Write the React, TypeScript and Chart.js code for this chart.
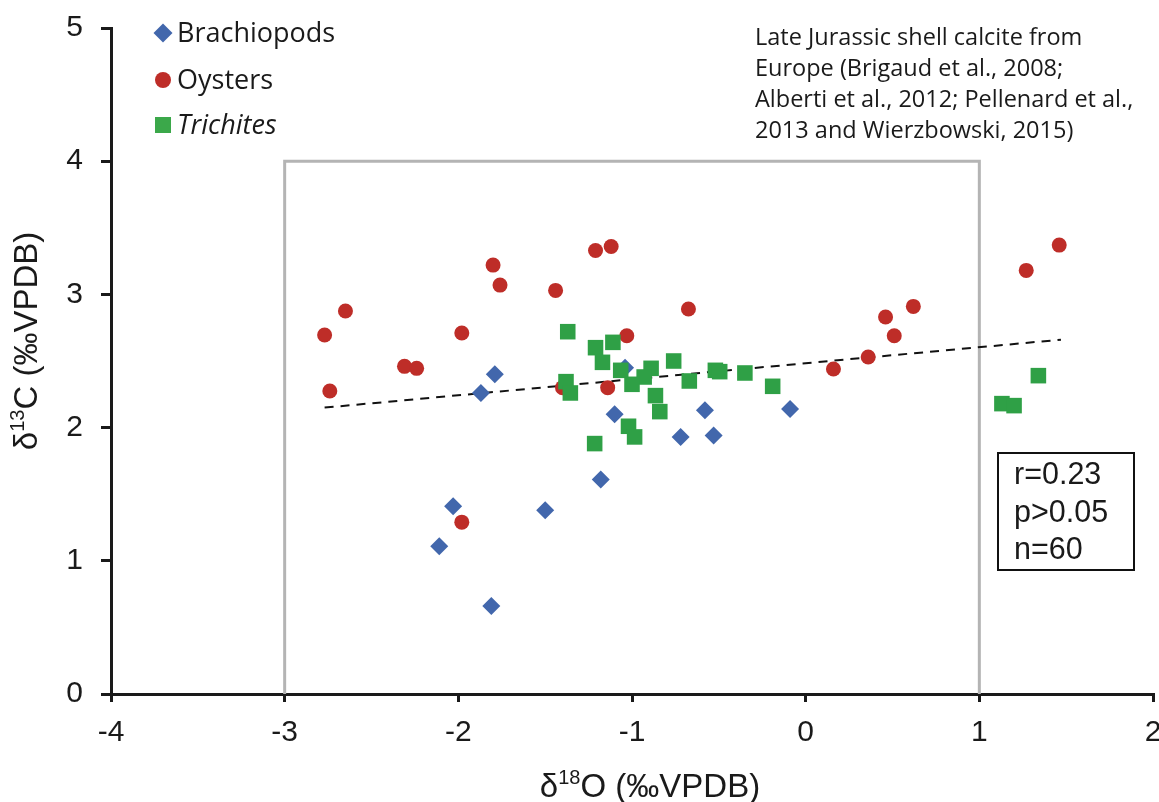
import React, { useEffect, useRef } from "react";
import { Chart, registerables } from "chart.js";

Chart.register(...registerables);

// ---- data ----
const brachX = [-1.79, -1.87, -1.04, -1.1, -0.58, -0.72, -0.53, -0.09, -2.03, -2.11, -1.5, -1.18, -1.81];
const brachY = [2.4, 2.26, 2.45, 2.1, 2.13, 1.93, 1.94, 2.14, 1.41, 1.11, 1.38, 1.61, 0.66];

const oysterX = [-2.65, -2.77, -2.74, -2.31, -2.24, -1.98, -1.8, -1.76, -1.44, -1.21, -1.12, -1.03, -0.675, -1.14, 0.16, -1.4, 0.36, 0.46, 0.51, 0.62, 1.27, 1.46, -1.98];
const oysterY = [2.875, 2.695, 2.275, 2.46, 2.445, 2.71, 3.22, 3.07, 3.03, 3.33, 3.36, 2.69, 2.89, 2.3, 2.44, 2.3, 2.53, 2.83, 2.69, 2.91, 3.18, 3.37, 1.29];

const trichX = [-1.37, -1.38, -1.355, -1.21, -1.11, -1.17, -1.065, -0.89, -0.93, -1.0, -0.76, -0.67, -0.52, -0.495, -0.35, -0.19, -0.865, -0.84, -1.02, -0.985, -1.215, 1.13, 1.2, 1.34];
const trichY = [2.72, 2.345, 2.26, 2.6, 2.64, 2.49, 2.43, 2.445, 2.38, 2.325, 2.5, 2.35, 2.43, 2.42, 2.41, 2.31, 2.24, 2.12, 2.01, 1.93, 1.88, 2.18, 2.165, 2.39];

const trendX = [-2.77, 1.47];
const trendY = [2.15, 2.66];

const frameX = [-3, -3, 1, 1];
const frameY = [0, 4, 4, 0];

const xMin = -4, xMax = 2, yMin = 0, yMax = 5;

const seriesNames = ["Brachiopods", "Oysters", "Trichites"];
const noteLines = [
  "Late Jurassic shell calcite from",
  "Europe (Brigaud et al., 2008;",
  "Alberti et al., 2012; Pellenard et al.,",
  "2013 and Wierzbowski, 2015)",
];
const statLines = ["r=0.23", "p>0.05", "n=60"];

const BLUE = "#4267AC";
const RED = "#BE2D28";
const GREEN = "#2FA046";
const GREY = "#B4B4B4";

const TICKFONT = "'Liberation Sans', Arial, sans-serif";
const SANS = "'Open Sans', 'Liberation Sans', sans-serif";

const zip = (xs: number[], ys: number[]) => xs.map((x, i) => ({ x, y: ys[i] }));

function drawSup(ctx: CanvasRenderingContext2D, parts: { t: string; sup?: boolean }[], cx: number, cy: number, size: number) {
  const big = `${size}px ${TICKFONT}`;
  const small = `${Math.round(size * 0.6)}px ${TICKFONT}`;
  let total = 0;
  for (const p of parts) {
    ctx.font = p.sup ? small : big;
    total += ctx.measureText(p.t).width;
  }
  let x = cx - total / 2;
  ctx.textAlign = "left";
  ctx.textBaseline = "middle";
  for (const p of parts) {
    ctx.font = p.sup ? small : big;
    ctx.fillText(p.t, x, p.sup ? cy - size * 0.3 : cy);
    x += ctx.measureText(p.t).width;
  }
}

const overlay = {
  id: "overlay",
  afterDraw(chart: any) {
    const ctx: CanvasRenderingContext2D = chart.ctx;
    ctx.save();
    // legend
    const lx = 163;
    const ly = [33, 80, 125];
    ctx.fillStyle = BLUE;
    ctx.beginPath();
    ctx.moveTo(lx, ly[0] - 9.5);
    ctx.lineTo(lx + 9.5, ly[0]);
    ctx.lineTo(lx, ly[0] + 9.5);
    ctx.lineTo(lx - 9.5, ly[0]);
    ctx.closePath();
    ctx.fill();
    ctx.fillStyle = RED;
    ctx.beginPath();
    ctx.arc(lx, ly[1], 8, 0, Math.PI * 2);
    ctx.fill();
    ctx.fillStyle = "#3BA84A";
    ctx.fillRect(lx - 8, ly[2] - 8, 16, 16);
    ctx.fillStyle = "#1a1a1a";
    ctx.textAlign = "left";
    ctx.textBaseline = "middle";
    seriesNames.forEach((n, i) => {
      ctx.font = `${i === 2 ? "italic " : ""}27px ${SANS}`;
      ctx.fillText(n, 177, ly[i] + 1);
    });
    // note
    ctx.font = `23.5px ${SANS}`;
    noteLines.forEach((l, i) => ctx.fillText(l, 755, 38 + i * 31));
    // stats box
    ctx.strokeStyle = "#111";
    ctx.lineWidth = 2;
    ctx.fillStyle = "#fff";
    ctx.fillRect(998, 453, 136, 117);
    ctx.strokeRect(998, 453, 136, 117);
    ctx.fillStyle = "#1a1a1a";
    ctx.font = `30.5px 'Liberation Sans', Arial, sans-serif`;
    statLines.forEach((l, i) => ctx.fillText(l, 1014, 476 + i * 37.5));
    // axis titles
    ctx.fillStyle = "#1a1a1a";
    drawSup(ctx, [{ t: "δ" }, { t: "18", sup: true }, { t: "O (‰VPDB)" }], 650, 788, 33);
    ctx.translate(28, 341);
    ctx.rotate(-Math.PI / 2);
    drawSup(ctx, [{ t: "δ" }, { t: "13", sup: true }, { t: "C (‰VPDB)" }], 0, 0, 33);
    ctx.restore();
  },
};

export default function App() {
  const ref = useRef<HTMLCanvasElement>(null);
  useEffect(() => {
    if (!ref.current) return;
    const chart = new Chart(ref.current, {
      type: "scatter",
      data: {
        datasets: [
          {
            label: seriesNames[2],
            data: zip(trichX, trichY),
            pointStyle: "rect",
            pointRadius: 11,
            backgroundColor: GREEN,
            borderWidth: 0,
            order: 0,
          },
          {
            label: seriesNames[1],
            data: zip(oysterX, oysterY),
            pointStyle: "circle",
            pointRadius: 7.5,
            backgroundColor: RED,
            borderWidth: 0,
            order: 1,
          },
          {
            label: seriesNames[0],
            data: zip(brachX, brachY),
            pointStyle: "rectRot",
            pointRadius: 9,
            backgroundColor: BLUE,
            borderWidth: 0,
            order: 2,
          },
          {
            label: "trend",
            data: zip(trendX, trendY),
            showLine: true,
            pointRadius: 0,
            borderColor: "#111",
            borderWidth: 2,
            borderDash: [9, 7],
            order: 3,
          } as any,
          {
            label: "frame",
            data: zip(frameX, frameY),
            showLine: true,
            pointRadius: 0,
            borderColor: GREY,
            borderWidth: 3,
            order: 4,
          } as any,
        ],
      },
      options: {
        animation: false,
        responsive: false,
        layout: { autoPadding: false, padding: { top: 28, right: 6, left: 0, bottom: 0 } },
        plugins: { legend: { display: false }, tooltip: { enabled: false } },
        scales: {
          x: {
            type: "linear",
            min: xMin,
            max: xMax,
            ticks: { stepSize: 1, color: "#1a1a1a", font: { family: TICKFONT, size: 30 }, padding: 13 },
            grid: { drawOnChartArea: false, drawTicks: true, tickLength: 8, color: "#1a1a1a", lineWidth: 3 },
            border: { color: "#1a1a1a", width: 3 },
            afterFit: (s: any) => {
              s.height = 108;
              s.paddingLeft = 0; s.paddingRight = 0; s.paddingTop = 0; s.paddingBottom = 0;
            },
          },
          y: {
            type: "linear",
            min: yMin,
            max: yMax,
            ticks: { stepSize: 1, color: "#1a1a1a", font: { family: TICKFONT, size: 30 }, padding: 18 },
            grid: { drawOnChartArea: false, drawTicks: true, tickLength: 10, color: "#1a1a1a", lineWidth: 3 },
            border: { color: "#1a1a1a", width: 3 },
            afterFit: (s: any) => {
              s.width = 111;
              s.paddingLeft = 0; s.paddingRight = 0; s.paddingTop = 0; s.paddingBottom = 0;
            },
          },
        },
      },
      plugins: [overlay],
    });
    return () => chart.destroy();
  }, []);
  return (
    <div style={{ position: "absolute", left: 0, top: 0, width: 1159, height: 802, background: "#fff" }}>
      <canvas ref={ref} width={1159} height={802} style={{ width: 1159, height: 802, display: "block" }} />
    </div>
  );
}
